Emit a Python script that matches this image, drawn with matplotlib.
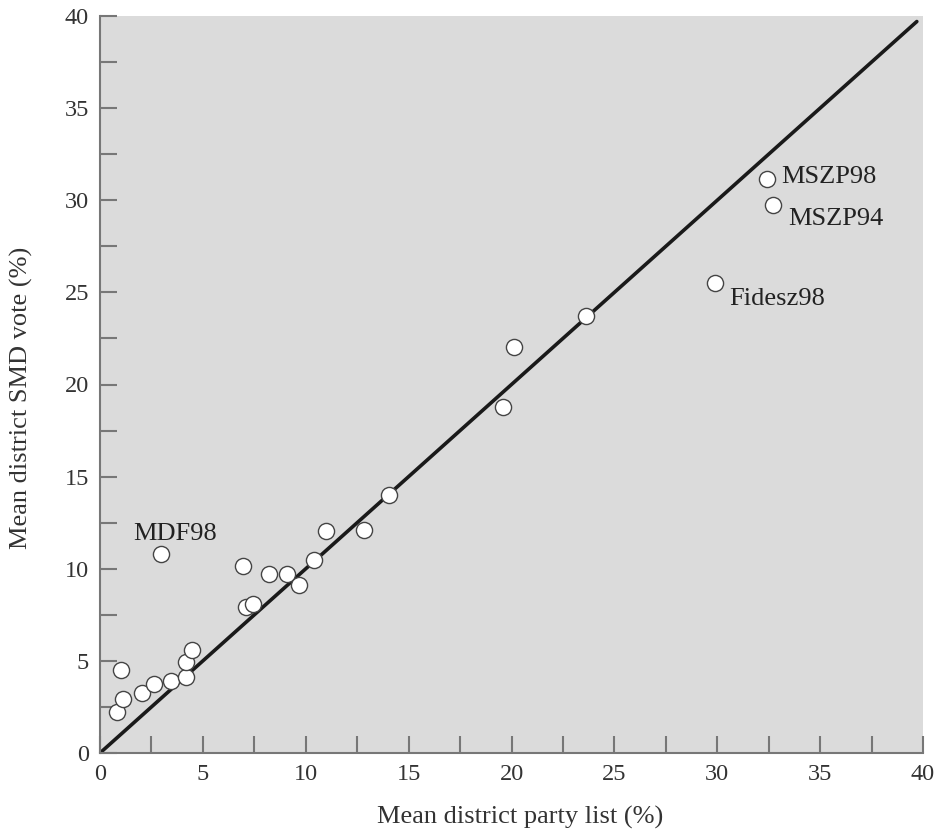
import matplotlib
matplotlib.use("Agg")
import matplotlib.pyplot as plt
from matplotlib.ticker import MultipleLocator

party_list = [0.84, 1.10, 1.02, 2.02, 2.62, 3.43, 4.18, 4.18, 4.49, 2.96, 6.93, 7.12, 7.42,
              8.23, 9.07, 9.67, 10.40, 11.00, 12.84, 14.03, 19.60, 20.13, 23.60, 29.89,
              32.40, 32.73]
smd_vote = [2.21, 2.95, 4.53, 3.28, 3.77, 3.90, 4.10, 4.94, 5.61, 10.78, 10.13, 7.94, 8.07,
            9.71, 9.71, 9.13, 10.50, 12.07, 12.11, 14.00, 18.76, 22.05, 23.72, 25.49,
            31.13, 29.74]
labels = {"MDF98": 9, "Fidesz98": 23, "MSZP98": 24, "MSZP94": 25}
diag = [0, 39.7]

plt.rcParams['font.family'] = ['Liberation Serif', 'DejaVu Serif']

fig = plt.figure(figsize=(9.35, 8.31), dpi=100)
ax = fig.add_axes([100/935, 78/831, 823/935, 737/831])
ax.set_facecolor('#dbdbdb')
ax.set_xlim(0, 40)
ax.set_ylim(0, 40)

ax.plot(diag, diag, color='#1a1a1a', lw=2.6, zorder=2, solid_capstyle='round')
ax.scatter(party_list, smd_vote, s=135, facecolor='white', edgecolor='#444444',
           linewidths=1.0, zorder=3)

offsets = {"MDF98": (-1.35, 1.1, 'left'), "Fidesz98": (0.7, -0.85, 'left'),
           "MSZP98": (0.7, 0.15, 'left'), "MSZP94": (0.7, -0.75, 'left')}
for name, i in labels.items():
    dx, dy, ha = offsets[name]
    ax.text(party_list[i] + dx, smd_vote[i] + dy, name, fontsize=19, color='#222222',
            ha=ha, va='center', zorder=4)

for s in ['top', 'right']:
    ax.spines[s].set_visible(False)
for s in ['left', 'bottom']:
    ax.spines[s].set_color('#777777')
    ax.spines[s].set_linewidth(1.5)

ax.xaxis.set_major_locator(MultipleLocator(5))
ax.yaxis.set_major_locator(MultipleLocator(5))
ax.xaxis.set_minor_locator(MultipleLocator(2.5))
ax.yaxis.set_minor_locator(MultipleLocator(2.5))
ax.tick_params(which='both', direction='in', length=12, width=1.5, color='#777777')
ax.tick_params(which='major', labelsize=17.5, labelcolor='#333333', pad=8)

ax.set_xlabel('Mean district party list (%)', fontsize=19, color='#333333', va='center')
ax.set_ylabel('Mean district SMD vote (%)', fontsize=19, color='#333333', va='center')
ax.xaxis.set_label_coords(0.511, -0.088)
ax.yaxis.set_label_coords(-0.095, 0.482)

fig.savefig('out.png', dpi=100)
